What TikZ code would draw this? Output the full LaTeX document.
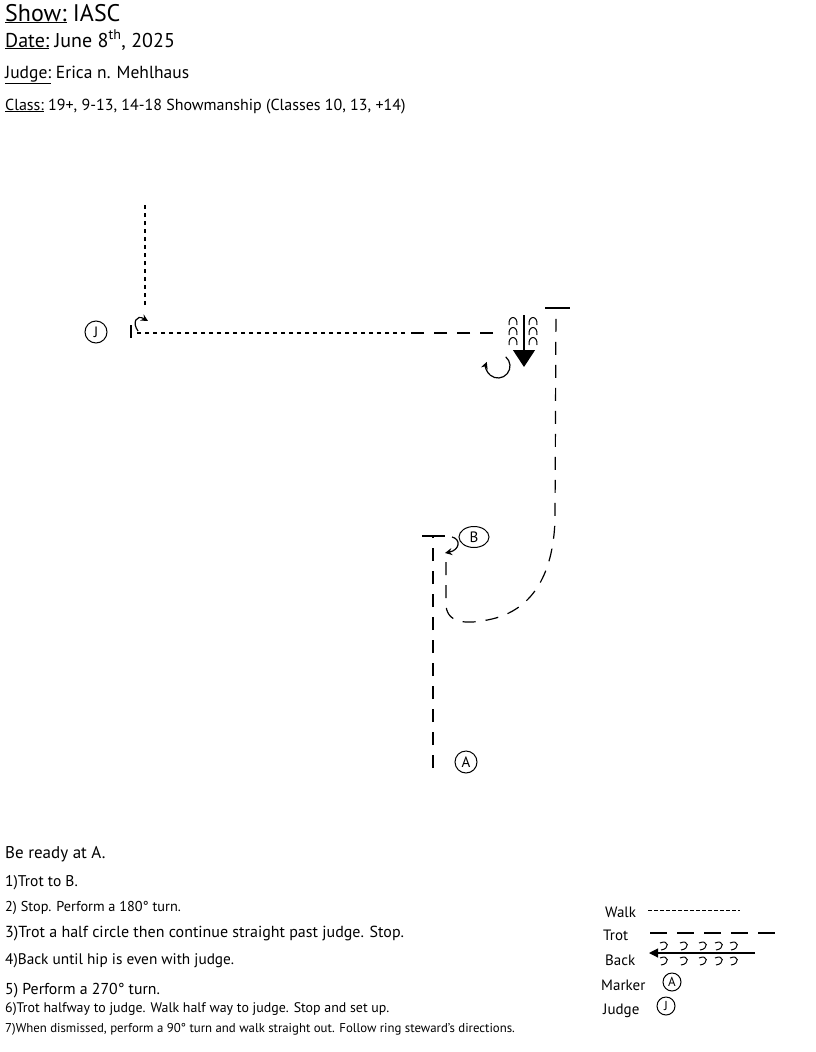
\documentclass[tikz,border=0pt]{standalone}
\usepackage{fontspec}
\setmainfont{PT Sans}
\usetikzlibrary{arrows.meta,shapes.geometric}
\tikzset{
  walkline/.style={line width=1.1pt,dash pattern=on 4.5pt off 3.5pt},
  trotline/.style={line width=1.2pt,dash pattern=on 13pt off 10pt},
  stopbar/.style={line width=1.3pt},
  backline/.style={line width=1.1pt},
  turnarr/.style={-{Stealth[length=7pt,width=7pt]},line width=1.2pt},
  curl/.style={line width=1pt},
  marker/.style={circle,draw,line width=1pt,inner sep=0pt,minimum size=22pt,font=\fontsize{15}{15}\selectfont},
  legmarker/.style={marker,minimum size=18pt,font=\fontsize{13}{13}\selectfont},
  headline/.style={anchor=base west,inner sep=0pt},
  stepline/.style={anchor=base west,inner sep=0pt},
  legtext/.style={anchor=base west,inner sep=0pt,font=\fontsize{15}{15}\selectfont}
}

\begin{document}
\begin{tikzpicture}[x=1pt,y=-1pt]
  \useasboundingbox (0,0) rectangle (815,1052);

  % header
  \node[headline,font=\fontsize{24}{24}\selectfont] (show) at (5,21) {\underline{Show:} IASC};
  \node[headline,font=\fontsize{20}{20}\selectfont] (date) at (5,47) {\underline{Date:} June 8\textsuperscript{th}, 2025};
  \node[headline,font=\fontsize{17.5}{17.5}\selectfont] (judgename) at (5,78) {\underline{Judge:} Erica n. Mehlhaus};
  \node[headline,font=\fontsize{16}{16}\selectfont] (class) at (5,110) {\underline{Class:} 19+, 9-13, 14-18 Showmanship (Classes 10, 13, +14)};

  % markers
  \node[marker] (judge) at (96,332) {J};
  \node[marker,ellipse,minimum width=30pt,minimum height=21pt] (mkb) at (474,537) {B};
  \node[marker] (mka) at (466,762) {A};

  % trot from A to B, stop
  \coordinate (start) at (433,768);
  \coordinate (stopb) at (433,536);
  \draw[trotline] (start) -- (stopb);
  \draw[stopbar] ([xshift=-11pt]stopb) -- ([xshift=12pt]stopb);
  % 180 turn
  \coordinate (turnb) at (452,537);
  \draw[turnarr] (turnb) .. controls (461,539) and (460,550) .. (445,553);

  % half circle, straight past judge
  \coordinate (outb) at (446,562);
  \coordinate (stopt) at (556,308);
  \draw[trotline] (outb) -- (446,606) .. controls (448,625) and (470,624) .. (492,619)
    .. controls (530,610) and (553,578) .. (555,520) -- (stopt);
  \draw[stopbar] ([xshift=-11pt]stopt) -- ([xshift=14pt]stopt);

  % back up
  \coordinate (backtop) at (524,315);
  \coordinate (backtip) at (524,367);
  \draw[backline,-{Triangle[length=17pt,width=22pt]}] (backtop) -- (backtip);
  \foreach \cx in {513,533}
    \foreach \cy in {321,331,341}
      \draw[curl] (\cx-4,\cy+4) .. controls (\cx-5,\cy-6) and (\cx+5,\cy-6) .. (\cx+4,\cy+4);

  % 270 turn
  \coordinate (turnc) at (498,366);
  \draw[turnarr] (turnc) ++(-50:12) arc[start angle=-50,end angle=200,radius=12];

  % trot then walk to judge
  \coordinate (backend) at (493,333);
  \coordinate (halfway) at (405,333);
  \coordinate (walkend) at (133,333);
  \draw[trotline,dash pattern=on 13pt off 10pt] (backend) -- (halfway);
  \draw[walkline] (halfway) -- (walkend);
  \draw[stopbar,line width=1.1pt] (131,325) -- (131,338);

  % 90 turn, walk out
  \coordinate (turnj) at (138,331);
  \draw[turnarr] (turnj) .. controls (132,323) and (136,314) .. (148,321);
  \coordinate (exitstart) at (145,305);
  \coordinate (exitend) at (145,205);
  \draw[walkline] (exitstart) -- (exitend);

  % instructions
  \node[stepline,font=\fontsize{17}{17}\selectfont] (ready) at (5,858) {Be ready at A.};
  \node[stepline,font=\fontsize{15.5}{15.5}\selectfont] (s1) at (5,886) {1)Trot to B.};
  \node[stepline,font=\fontsize{14.3}{14.3}\selectfont] (s2) at (5,911) {2) Stop. Perform a 180° turn.};
  \node[stepline,font=\fontsize{16}{16}\selectfont] (s3) at (5,937) {3)Trot a half circle then continue straight past judge. Stop.};
  \node[stepline,font=\fontsize{15.3}{15.3}\selectfont] (s4) at (5,964) {4)Back until hip is even with judge.};
  \node[stepline,font=\fontsize{15.8}{15.8}\selectfont] (s5) at (5,994) {5) Perform a 270° turn.};
  \node[stepline,font=\fontsize{13.9}{13.9}\selectfont] (s6) at (5,1012) {6)Trot halfway to judge. Walk half way to judge. Stop and set up.};
  \node[stepline,font=\fontsize{12.8}{12.8}\selectfont] (s7) at (5,1032) {7)When dismissed, perform a 90° turn and walk straight out. Follow ring steward's directions.};

  % legend
  \node[legtext] (lwalk) at (605,917) {Walk};
  \coordinate (lwa) at (648,910);
  \coordinate (lwb) at (740,910);
  \draw[walkline,line width=.9pt,dash pattern=on 3.5pt off 2.5pt] (lwa) -- (lwb);
  \node[legtext] (ltrot) at (603,940) {Trot};
  \coordinate (lta) at (650,933);
  \coordinate (ltb) at (782,933);
  \draw[trotline,dash pattern=on 17pt off 10pt] (lta) -- (ltb);
  \node[legtext] (lback) at (605,965) {Back};
  \coordinate (lba) at (755,953);
  \coordinate (lbb) at (649,953);
  \draw[backline,-{Triangle[length=9pt,width=9pt]}] (lba) -- (lbb);
  \foreach \cx in {664,684,703,719,734}
    \foreach \cy in {946,961}
      \draw[curl] (\cx-4,\cy-3) .. controls (\cx+5,\cy-7) and (\cx+6,\cy+3) .. (\cx-3,\cy+4);
  \node[legtext] (lmark) at (601,990) {Marker};
  \node[legmarker] (lega) at (672,982) {A};
  \node[legtext] (ljudge) at (603,1014) {Judge};
  \node[legmarker] (legj) at (666,1006) {J};
\end{tikzpicture}
\end{document}
